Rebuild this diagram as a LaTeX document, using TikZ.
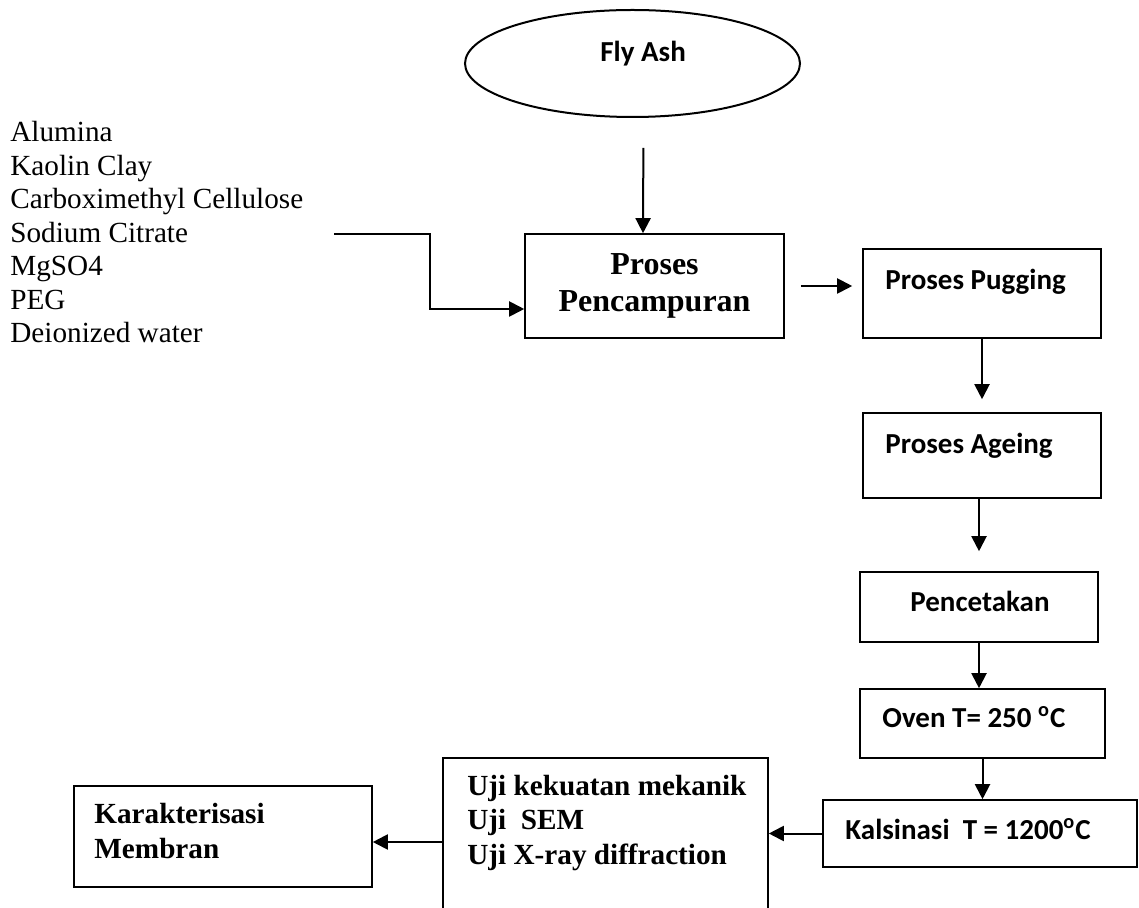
\documentclass[tikz,border=0pt]{standalone}
\usepackage{fontspec}
\setmainfont{Liberation Serif}
\newfontfamily\calibri{Carlito}
\usetikzlibrary{shapes.geometric,arrows.meta,positioning,fit}

\begin{document}
\begin{tikzpicture}[x=0.5pt,y=-0.5pt,arrow/.style={line width=1pt,-{Triangle[length=7.5pt,width=7.5pt]}}]
	\tikzset{box/.style={draw,rectangle,line width=0.8pt,inner sep=0pt}}
	\tikzset{lbl/.style={inner sep=0pt,anchor=base west,font=\calibri\bfseries\fontsize{14.5}{17}\selectfont}}
	\tikzset{tms/.style={inner sep=0pt,anchor=base west,align=left,font=\bfseries\fontsize{14.6}{17.25}\selectfont}}

	\useasboundingbox (0,0) rectangle (1139,908);
	\clip (0,0) rectangle (1139,908);

	% Bahan
	\node[inner sep=0pt, anchor=base west, align=left, font=\fontsize{14.6}{16.75}\selectfont] (bahan) at (10,343) {Alumina\\Kaolin Clay\\Carboximethyl Cellulose\\Sodium Citrate\\MgSO4\\PEG\\Deionized water};
	\coordinate (bahanout) at (334,234);

	% Fly ash
	\node[ellipse, draw, line width=1pt, minimum width=167.5pt, minimum height=53.5pt] (flyash) at (632.5,63.5) {};
	\node[lbl] (flyashtxt) at (600,62) {Fly Ash};

	% Proses
	\node[fit={(525,234) (784,338)}, box] (campur) {};
	\node[inner sep=0pt, anchor=base, align=center, font=\bfseries\fontsize{16}{18.5}\selectfont] (campurtxt) at (654.5,312) {Proses\\Pencampuran};

	\node[fit={(863,249) (1101,338)}, box] (pugging) {};
	\node[lbl] (pugtxt) at (885,290) {Proses Pugging};

	\node[fit={(863,413) (1101,498)}, box] (ageing) {};
	\node[lbl] (agetxt) at (885,453) {Proses Ageing};

	\node[fit={(860,572) (1098,642)}, box] (cetak) {};
	\node[lbl] (cetaktxt) at (910,611) {Pencetakan};

	\node[fit={(860,689) (1105,758)}, box] (oven) {};
	\node[lbl] (oventxt) at (882,727) {Oven T= 250 \textsuperscript{o}C};

	\node[fit={(823,800) (1137,867)}, box] (kalsinasi) {};
	\node[lbl] (kalsitxt) at (845,839) {Kalsinasi\ \ T = 1200\textsuperscript{o}C};

	% Uji
	\node[fit={(443,758) (768,930)}, box] (uji) {};
	\node[tms] (ujitxt) at (467,864) {Uji kekuatan mekanik\\Uji\ \ SEM\\Uji X-ray diffraction};

	\node[fit={(74,786) (372,887)}, box] (karakter) {};
	\node[tms] (karaktxt) at (94,858) {Karakterisasi\\Membran};

	\draw [arrow] (bahanout) -- ++(96,0) |- ([yshift=-11.5pt]campur.west);
	\draw [arrow, shorten <=15pt] ([xshift=5.5pt]flyash.south) -- ([xshift=-5.75pt]campur.north);
	\draw [arrow, shorten <=8pt, shorten >=5pt] (campur.east) -- (campur.east -| pugging.west);
	\draw [arrow, shorten >=6.5pt] (pugging.south) -- (ageing.north);
	\draw [arrow, shorten >=10pt] (ageing.south -| cetak.north) -- (cetak.north);
	\draw [arrow] (cetak.south) -- (cetak.south |- oven.north);
	\draw [arrow] (oven.south) -- (oven.south |- kalsinasi.north);
	\draw [arrow] (kalsinasi.west) -- (kalsinasi.west -| uji.east);
	\draw [arrow, transform canvas={yshift=-2.75pt}] (uji.west |- karakter.east) -- (karakter.east);

\end{tikzpicture}
\end{document}
